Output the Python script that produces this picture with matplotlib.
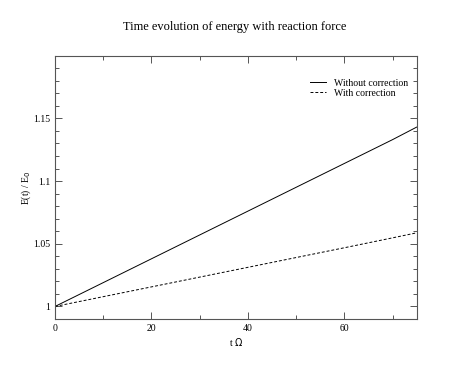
## energy vs time, with and without reaction force correction
import matplotlib
matplotlib.use("Agg")
import matplotlib.pyplot as plt
from matplotlib.ticker import MultipleLocator

## data
t = [0, 10, 20, 30, 40, 50, 60, 70, 75]
e_without = [1.0, 1.019, 1.038, 1.057, 1.076, 1.095, 1.114, 1.133, 1.143]
e_with = [1.0, 1.0078, 1.0156, 1.0234, 1.0312, 1.039, 1.0468, 1.0547, 1.0587]

plt.rcParams['font.family'] = ['Liberation Serif', 'DejaVu Serif']

fig = plt.figure(figsize=(4.69, 3.76), dpi=100)
ax = fig.add_axes([0.1173, 0.1516, 0.771, 0.7004])

ax.plot(t, e_without, color='black', lw=0.7, label='Without correction')
ax.plot(t, e_with, color='black', lw=0.7, ls=(0, (3, 2)), label='With correction')

ax.set_xlim(0, 75)
ax.set_ylim(0.99, 1.2)
ax.xaxis.set_major_locator(MultipleLocator(20))
ax.xaxis.set_minor_locator(MultipleLocator(10))
ax.yaxis.set_major_locator(MultipleLocator(0.05))
ax.yaxis.set_minor_locator(MultipleLocator(0.01))
ax.set_yticks([1, 1.05, 1.1, 1.15])
ax.set_yticklabels(['1', '1.05', '1.1', '1.15'])
ax.tick_params(which='both', direction='in', top=True, right=True, labelsize=7, width=0.7, colors='#555555', labelcolor='black')
ax.tick_params(which='major', length=5)
ax.tick_params(which='minor', length=3)
for s in ax.spines.values():
    s.set_linewidth(0.8)
    s.set_color('#555555')

ax.set_xlabel('t $\\Omega$', fontsize=7, labelpad=2)
ax.set_ylabel('E(t) / E$_0$', fontsize=7, labelpad=0)
fig.suptitle('Time evolution of energy with reaction force', fontsize=8.9, y=0.945)

ax.legend(loc='upper right', frameon=False, fontsize=7, handlelength=1.6,
          handletextpad=0.8, labelspacing=0.1, bbox_to_anchor=(1.0, 0.945))

fig.savefig('out.png', dpi=100)
